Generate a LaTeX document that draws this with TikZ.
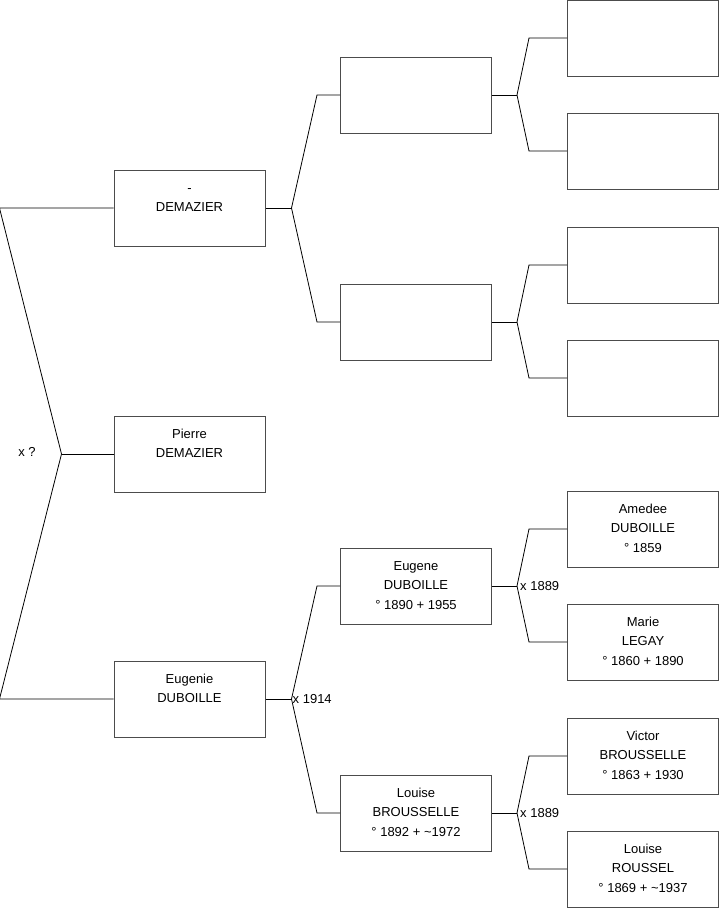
\documentclass[tikz,border=0pt]{standalone}
\usepackage{fontspec}
\setmainfont{Liberation Sans}
\usepackage{tikz}
\usetikzlibrary{calc}

\tikzset{
  person/.style={draw=black!70,line width=1pt,minimum width=151,minimum height=76,
    inner sep=0pt,align=center,font=\fontsize{13}{19.6}\selectfont},
  link/.style={line width=0.8pt},
  mariage/.style={font=\fontsize{13}{15}\selectfont,inner sep=1pt}
}

\begin{document}
\begin{tikzpicture}[x=1pt,y=-1pt]
        \useasboundingbox (0,0) rectangle (719,908);

        % colonne 1
        \node[person] (dem) at (189.5,208) {\strut-\\DEMAZIER\\\strut};
        \node[person] (pierre) at (189.5,454) {\strut Pierre\\DEMAZIER\\\strut};
        \node[person] (eugenie) at (189.5,699) {\strut Eugenie\\DUBOILLE\\\strut};

        % colonne 2
        \node[person] (demp) at (416,95) {};
        \node[person] (demm) at (416,322) {};
        \node[person] (eugene) at (416,586) {\strut Eugene\\DUBOILLE\\\strut\textdegree{} 1890 + 1955};
        \node[person] (louiseb) at (416,813) {\strut Louise\\BROUSSELLE\\\strut\textdegree{} 1892 + \textasciitilde1972};

        % colonne 3
        \node[person] (gp1) at (643,38) {};
        \node[person] (gp2) at (643,151) {};
        \node[person] (gp3) at (643,265) {};
        \node[person] (gp4) at (643,378) {};
        \node[person] (amedee) at (643,529) {\strut Amedee\\DUBOILLE\\\strut\textdegree{} 1859};
        \node[person] (marie) at (643,642) {\strut Marie\\LEGAY\\\strut\textdegree{} 1860 + 1890};
        \node[person] (victor) at (643,756) {\strut Victor\\BROUSSELLE\\\strut\textdegree{} 1863 + 1930};
        \node[person] (louiser) at (643,869) {\strut Louise\\ROUSSEL\\\strut\textdegree{} 1869 + \textasciitilde1937};

        % liens
        \draw[link] (pierre.west) -- ++(-52,0);
        \draw[link] (dem.west) -- ++(-114,0) -- ($(pierre.west)+(-52,0)$) -- ($(eugenie.west)+(-114,0)$) -- (eugenie.west);

        \draw[link] (dem.east) -- ++(26,0);
        \draw[link] (demp.west) -- ++(-23,0) -- ($(dem.east)+(26,0)$) -- ($(demm.west)+(-23,0)$) -- (demm.west);
        \draw[link] (eugenie.east) -- ++(26,0);
        \draw[link] (eugene.west) -- ++(-23,0) -- ($(eugenie.east)+(26,0)$) -- ($(louiseb.west)+(-23,0)$) -- (louiseb.west);

        \draw[link] (demp.east) -- ++(25,0);
        \draw[link] (gp1.west) -- ++(-38,0) -- ($(demp.east)+(25,0)$) -- ($(gp2.west)+(-38,0)$) -- (gp2.west);
        \draw[link] (demm.east) -- ++(25,0);
        \draw[link] (gp3.west) -- ++(-38,0) -- ($(demm.east)+(25,0)$) -- ($(gp4.west)+(-38,0)$) -- (gp4.west);
        \draw[link] (eugene.east) -- ++(25,0);
        \draw[link] (amedee.west) -- ++(-38,0) -- ($(eugene.east)+(25,0)$) -- ($(marie.west)+(-38,0)$) -- (marie.west);
        \draw[link] (louiseb.east) -- ++(25,0);
        \draw[link] (victor.west) -- ++(-38,0) -- ($(louiseb.east)+(25,0)$) -- ($(louiser.west)+(-38,0)$) -- (louiser.west);

        % mariages
        \node[mariage] (xpierre) at (27,452) {x ?};
        \node[mariage,anchor=west] (xeugenie) at ($(eugenie.east)+(26,0)$) {x 1914};
        \node[mariage,anchor=west] (xeugene) at ($(eugene.east)+(27,0)$) {x 1889};
        \node[mariage,anchor=west] (xlouise) at ($(louiseb.east)+(27,0)$) {x 1889};
\end{tikzpicture}
\end{document}
